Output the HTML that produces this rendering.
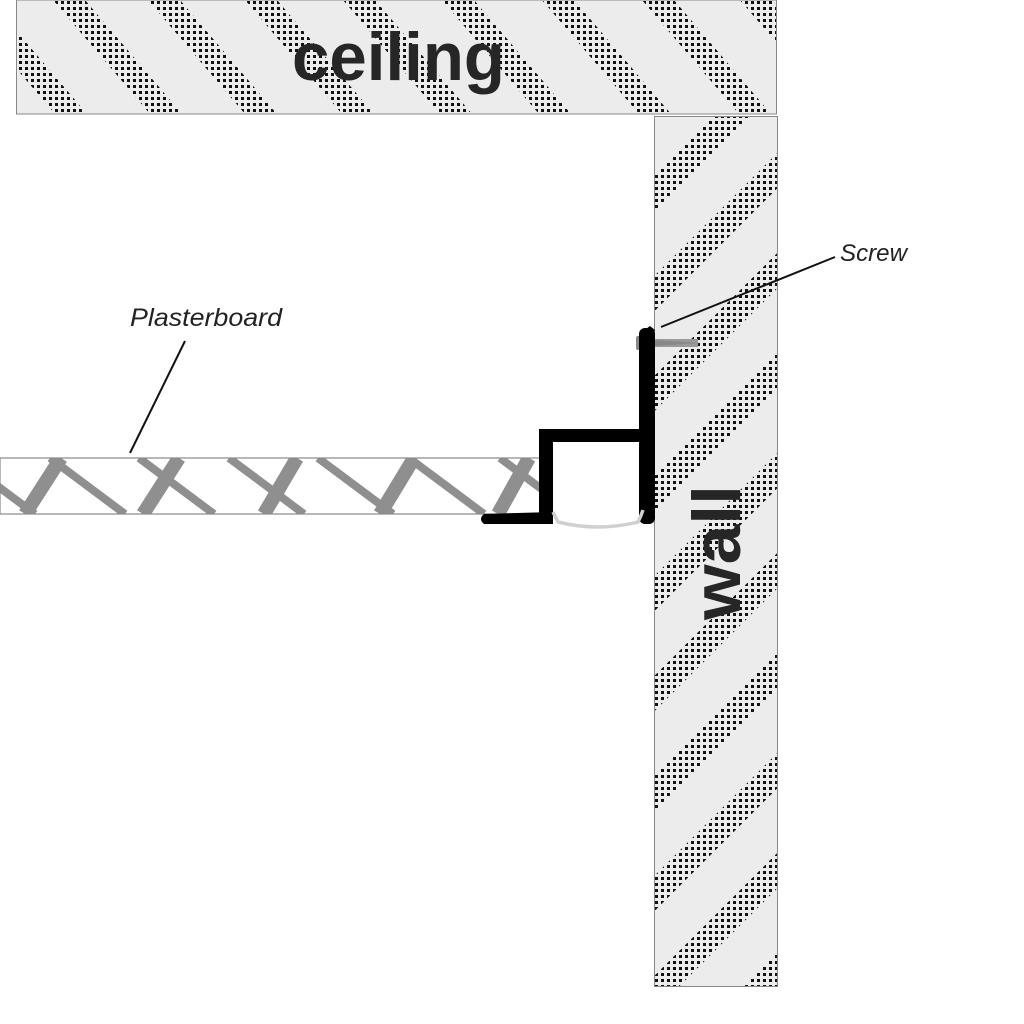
<!DOCTYPE html>
<html><head><meta charset="utf-8"><style>html,body{margin:0;padding:0;background:#fff}svg{display:block}</style></head>
<body>
<svg width="1024" height="1024" viewBox="0 0 1024 1024" xmlns="http://www.w3.org/2000/svg">
<defs>
<pattern id="dots" width="6" height="6" patternUnits="userSpaceOnUse">
<rect x="1" y="1" width="3" height="3" fill="#111"/>
</pattern>
<mask id="cm" maskUnits="userSpaceOnUse" x="0" y="0" width="1024" height="1024">
<g fill="#fff">
<polygon points="-137,0 -105,0 -8,114 -40,114"/>
<polygon points="-42,0 -10,0 87,114 55,114"/>
<polygon points="53,0 85,0 182,114 150,114"/>
<polygon points="148,0 180,0 277,114 245,114"/>
<polygon points="245,0 277,0 374,114 342,114"/>
<polygon points="343,0 375,0 472,114 440,114"/>
<polygon points="442,0 474,0 571,114 539,114"/>
<polygon points="542,0 574,0 671,114 639,114"/>
<polygon points="642,0 674,0 771,114 739,114"/>
<polygon points="740,0 772,0 869,114 837,114"/>
</g>
</mask>
<pattern id="wst" width="70.71" height="100" patternUnits="userSpaceOnUse" patternTransform="rotate(45)">
<rect x="21.4" y="0" width="25" height="100" fill="#fff"/>
</pattern>
<mask id="wm" maskUnits="userSpaceOnUse" x="0" y="0" width="1024" height="1024">
<rect x="654" y="116" width="124" height="872" fill="url(#wst)"/>
</mask>
<clipPath id="pb"><rect x="0" y="458" width="540" height="56"/></clipPath>
</defs>

<!-- ceiling -->
<rect x="16.5" y="0" width="760" height="114" fill="#ececec" stroke="#888" stroke-width="1"/>
<rect x="17" y="0" width="759" height="113" fill="url(#dots)" mask="url(#cm)"/>
<text x="292" y="80" font-family="Liberation Sans, sans-serif" font-weight="bold" font-size="68" fill="#262626" textLength="213" lengthAdjust="spacingAndGlyphs">ceiling</text>

<!-- wall -->
<rect x="654.5" y="116.5" width="123" height="870" fill="#ececec" stroke="#888" stroke-width="1"/>
<rect x="655" y="117" width="122" height="869" fill="url(#dots)" mask="url(#wm)"/>
<text transform="translate(740,620) rotate(-90)" x="0" y="0" font-family="Liberation Sans, sans-serif" font-weight="bold" font-size="68" fill="#262626" textLength="135" lengthAdjust="spacingAndGlyphs">wall</text>

<!-- plasterboard -->
<rect x="0" y="458" width="540" height="56" fill="#fff"/>
<g clip-path="url(#pb)" stroke="#8f8f8f">
<g stroke-width="8">
<line x1="-40" y1="458" x2="35" y2="514"/>
<line x1="50" y1="458" x2="125" y2="514"/>
<line x1="139" y1="458" x2="214" y2="514"/>
<line x1="229" y1="458" x2="304" y2="514"/>
<line x1="318" y1="458" x2="393" y2="514"/>
<line x1="409" y1="458" x2="484" y2="514"/>
<line x1="500" y1="458" x2="575" y2="514"/>
</g>
<g stroke-width="14">
<line x1="25" y1="514" x2="61" y2="458"/>
<line x1="143" y1="514" x2="179" y2="458"/>
<line x1="264" y1="514" x2="297" y2="458"/>
<line x1="380" y1="514" x2="414" y2="458"/>
<line x1="498" y1="514" x2="529" y2="458"/>
</g>
</g>
<rect x="0" y="458" width="540" height="56" fill="none" stroke="#888" stroke-width="1.2"/>

<!-- screw -->
<rect x="640" y="339" width="58" height="8" fill="#9a9a9a"/>
<path d="M640,339 L700,343 L640,347 Z" fill="#888"/>
<rect x="636" y="336" width="6" height="14" rx="2" fill="#888"/>

<!-- profile -->
<g fill="#000">
<rect x="639" y="328" width="16" height="196" rx="6"/>
<rect x="539" y="429" width="110" height="13"/>
<rect x="539" y="429" width="14" height="95"/>
<path d="M484,514 L553,512 L553,524 L484,524 Q478,519 484,514 Z"/>
<path d="M639,334 L650,326 L655,330 L650,340 Z"/>
</g>
<!-- diffuser -->
<path d="M553,512 Q556,518 558,522 Q598,532 638,522 Q641,516 643,510" fill="none" stroke="#d0d0d0" stroke-width="3.5"/>

<!-- labels -->
<line x1="835" y1="257" x2="661" y2="327" stroke="#111" stroke-width="2"/>
<text x="840" y="261" font-family="Liberation Sans, sans-serif" font-style="italic" font-size="24" fill="#222" textLength="67" lengthAdjust="spacingAndGlyphs">Screw</text>
<line x1="185" y1="341" x2="130" y2="453" stroke="#111" stroke-width="2"/>
<text x="130" y="326" font-family="Liberation Sans, sans-serif" font-style="italic" font-size="25" fill="#222" textLength="152" lengthAdjust="spacingAndGlyphs">Plasterboard</text>
</svg>
</body></html>
